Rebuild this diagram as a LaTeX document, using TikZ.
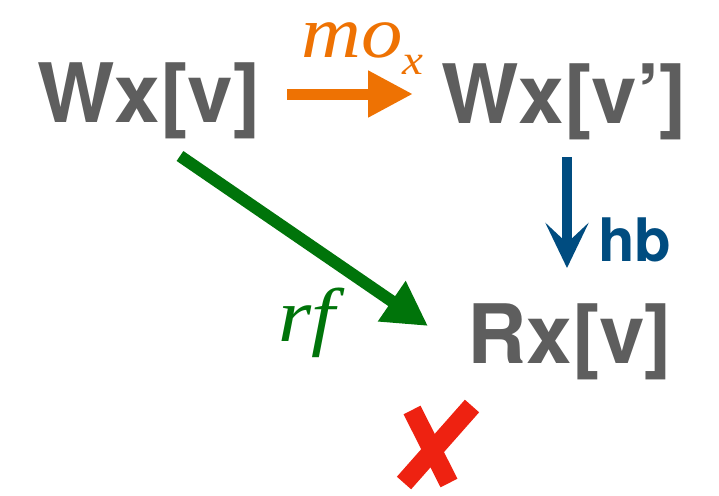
\documentclass[tikz,border=0pt]{standalone}
\usepackage{fontspec}
\setsansfont{TeX Gyre Heros}
\newfontfamily\timesf{Liberation Serif}[FakeStretch=1.12]
\usetikzlibrary{arrows.meta}
\definecolor{txtgray}{HTML}{5E5E5E}
\definecolor{moorange}{HTML}{EE7203}
\definecolor{rfgreen}{HTML}{00740A}
\definecolor{hbblue}{HTML}{004C80}
\definecolor{xred}{HTML}{EE2211}
\tikzset{
  evt/.style={anchor=base west, inner sep=0pt, text=txtgray,
    font=\sffamily\bfseries\fontsize{82}{82}\selectfont},
  lbl/.style={anchor=base west, inner sep=0pt},
  moarrow/.style={draw=moorange, line width=11pt, -{Triangle[length=45pt,width=44pt]}},
  rfarrow/.style={draw=rfgreen, line width=12pt, -{Triangle[length=44pt,width=46pt]}},
  hbarrow/.style={draw=hbblue, line width=10pt, -{Stealth[length=45pt,width=43pt,inset=20pt]}},
  xstroke/.style={draw=xred, line width=19pt, line cap=butt},
}
\begin{document}
\begin{tikzpicture}[x=1pt,y=-1pt]
\useasboundingbox (0,0) rectangle (719,495);
\node[evt] (W1) at (37,122) {Wx[v]};
\node[evt] (W2) at (441,123) {Wx[v’]};
\node[evt] (R) at (467,363) {Rx[v]};
\node[lbl, text=moorange, font=\timesf\itshape\fontsize{74}{74}\selectfont] (mo) at (301,58)
  {mo\raisebox{-17pt}{\fontsize{42}{42}\selectfont x}};
\node[lbl, text=rfgreen, font=\timesf\itshape\fontsize{76}{76}\selectfont] (rf) at (278,341) {rf};
\node[lbl, text=hbblue, font=\sffamily\bfseries\fontsize{60}{60}\selectfont] (hb) at (598,261) {hb};
\coordinate (moS) at (287,94);
\coordinate (moE) at (413,94);
\coordinate (rfS) at (180,156);
\coordinate (rfE) at (428,326);
\coordinate (hbS) at (567,157);
\coordinate (hbE) at (567,268);
\draw[moarrow] (moS) -- (moE);
\draw[rfarrow] (rfS) -- (rfE);
\draw[hbarrow] (hbS) -- (hbE);
\coordinate (xa1) at (412,410);
\coordinate (xa2) at (449,483);
\coordinate (xb1) at (472,406);
\coordinate (xb2) at (404,483);
\draw[xstroke] (xa1) -- (xa2);
\draw[xstroke] (xb1) -- (xb2);
\end{tikzpicture}
\end{document}
